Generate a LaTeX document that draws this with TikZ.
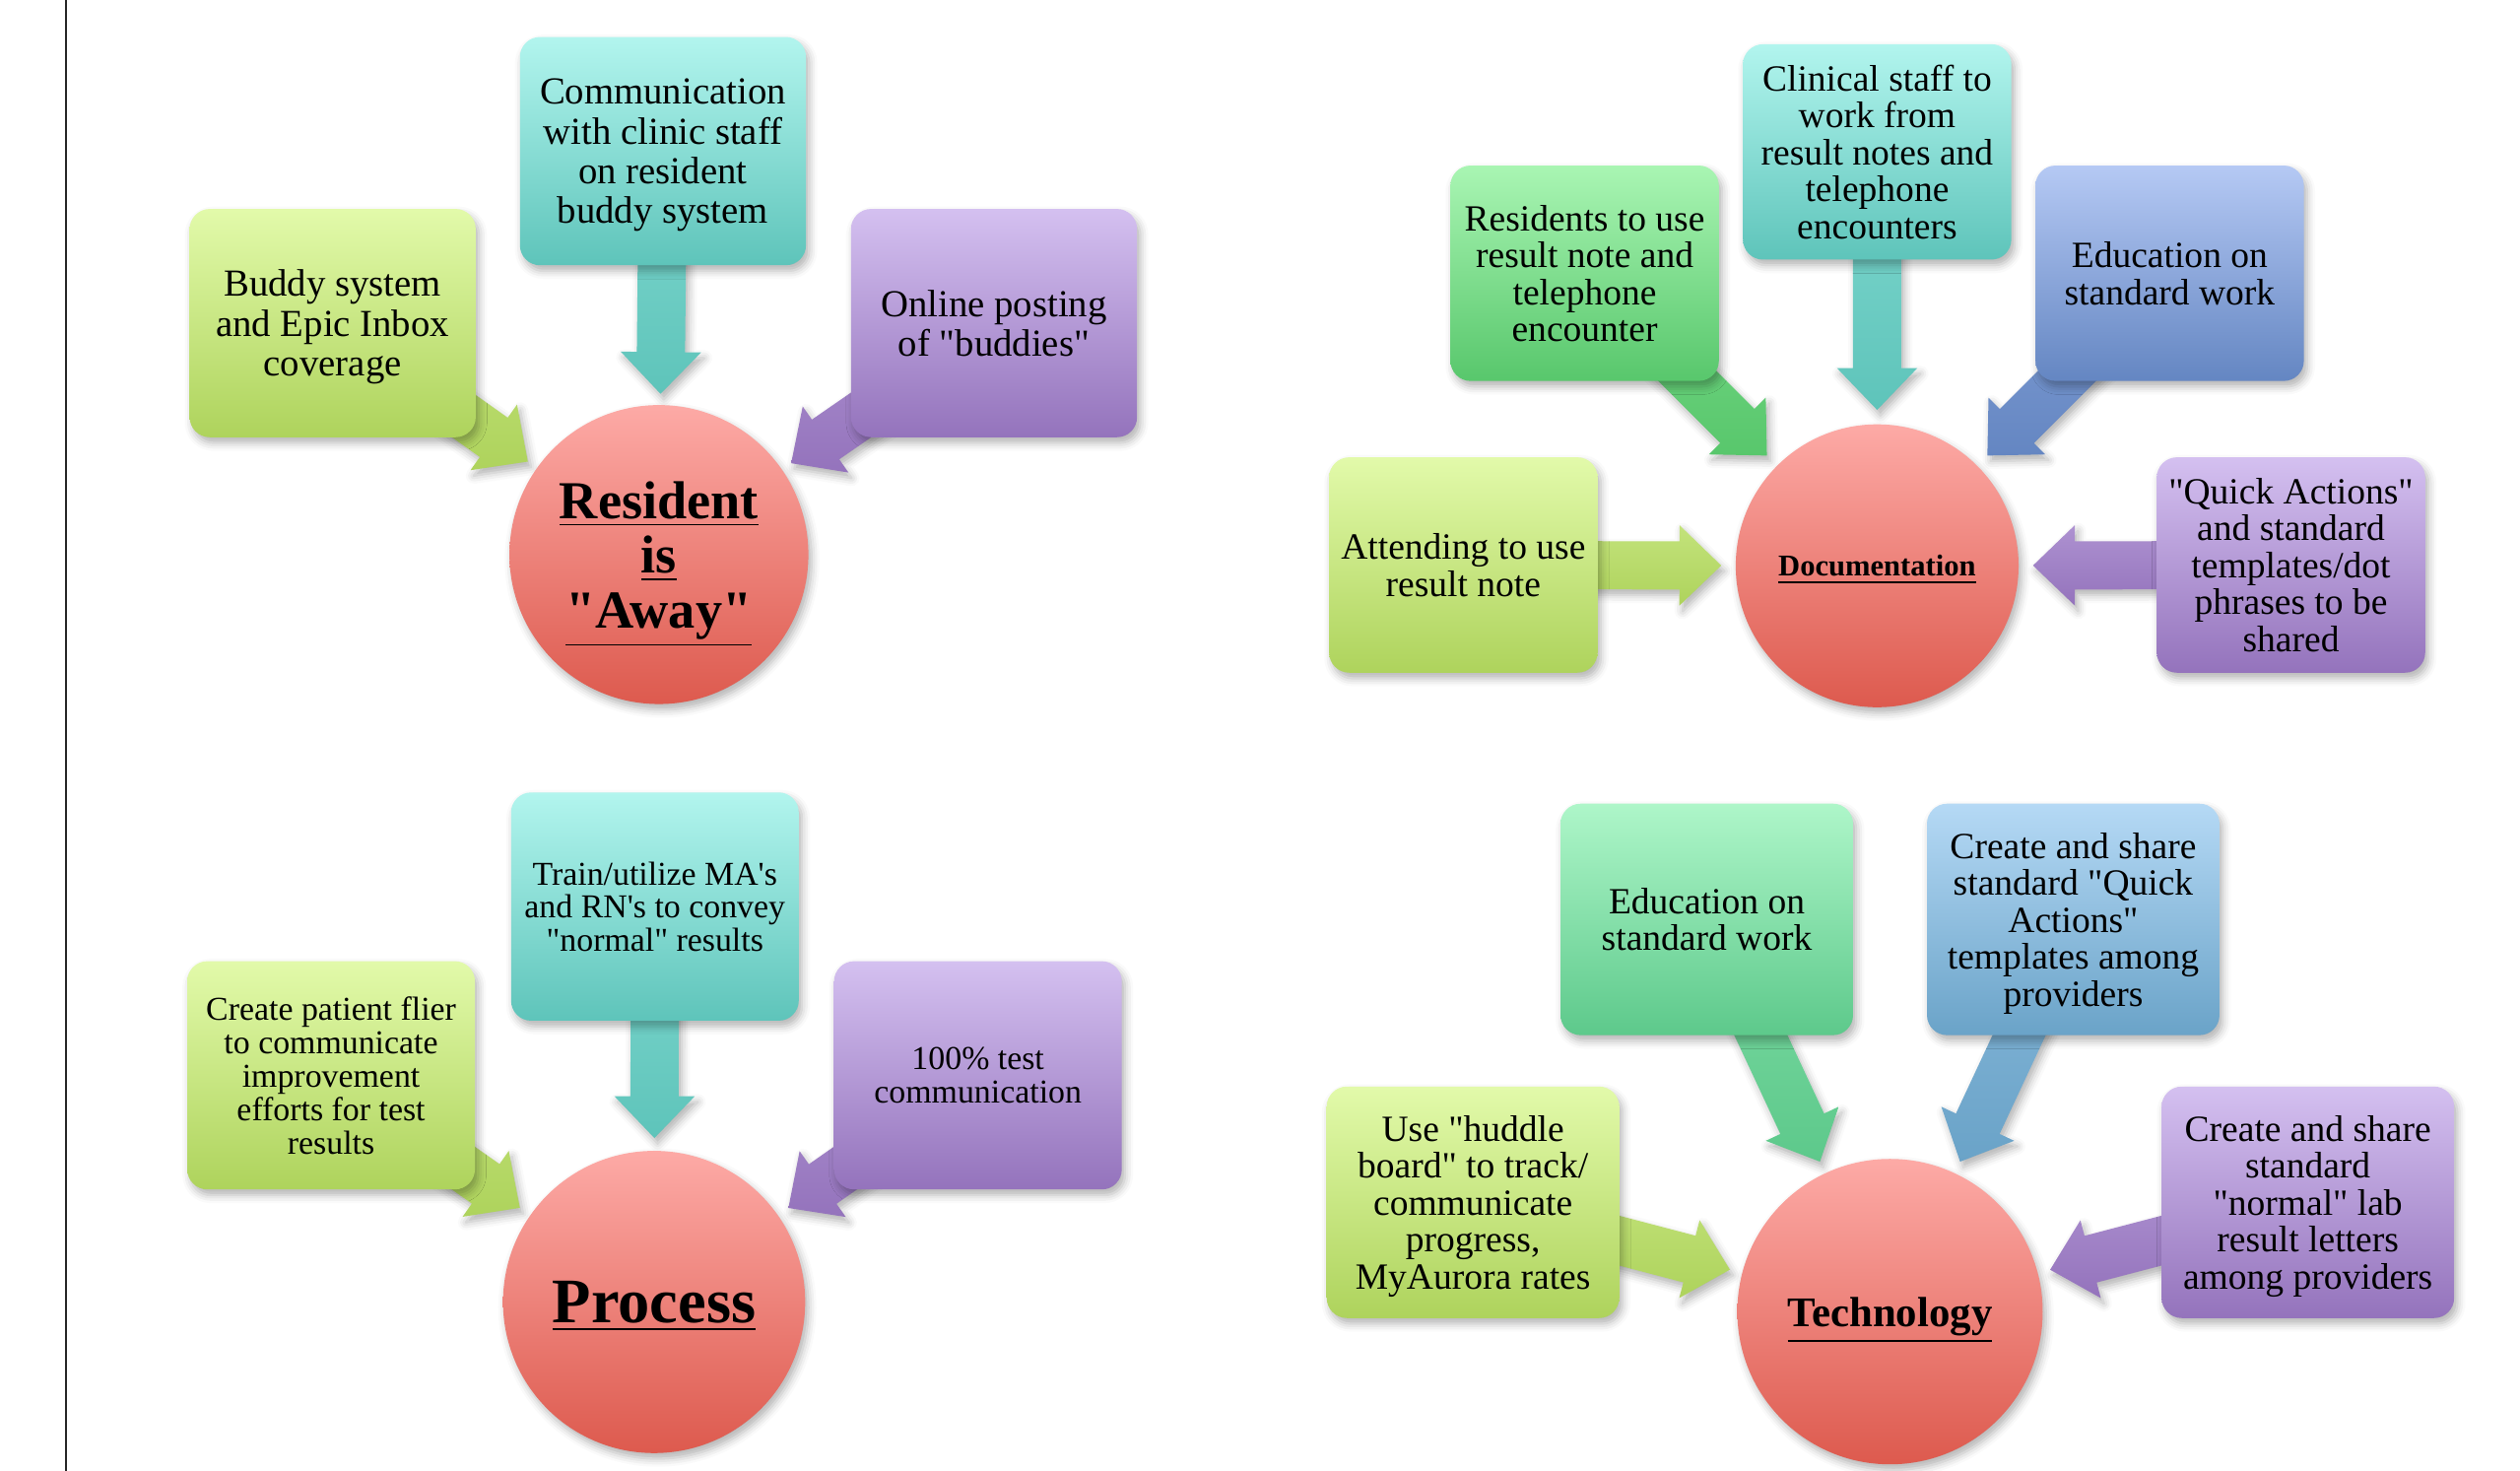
\documentclass[tikz,border=0pt]{standalone}
\usepackage{fontspec}
\setmainfont{Liberation Serif}[Ligatures=TeXOff]
\usetikzlibrary{calc,backgrounds,shadows.blur}

\definecolor{cyT}{HTML}{B2F5EE}\definecolor{cyB}{HTML}{5EC4BA}
\definecolor{ygT}{HTML}{E2FAAA}\definecolor{ygB}{HTML}{AED35C}
\definecolor{puT}{HTML}{D4C0F0}\definecolor{puB}{HTML}{9473BC}
\definecolor{grT}{HTML}{A9F5B3}\definecolor{grB}{HTML}{58C76C}
\definecolor{blT}{HTML}{B5C9F4}\definecolor{blB}{HTML}{6486C2}
\definecolor{mgT}{HTML}{AEF6C9}\definecolor{mgB}{HTML}{5DC98B}
\definecolor{skT}{HTML}{B5D9F5}\definecolor{skB}{HTML}{6AA3C8}
\definecolor{hubT}{HTML}{FDAAA6}\definecolor{hubB}{HTML}{DD5A4E}

% #1 style, #2 satellite, #3 hub, #4 distance of the tip from the hub
\newcommand\spoke[4]{\path[#1] let \p1=($(#2)-(#3)$), \n1={atan2(\y1,\x1)} in
  ($(#3)+(\n1:#4)$)
  -- ($(#3)+(\n1:#4)+(\n1:10.4pt)+(\n1+90:10pt)$)
  -- ($(#3)+(\n1:#4)+(\n1:10.4pt)+(\n1+90:6pt)$)
  -- ($(#2)+(\n1+90:6pt)$) -- ($(#2)+(\n1-90:6pt)$)
  -- ($(#3)+(\n1:#4)+(\n1:10.4pt)+(\n1-90:6pt)$)
  -- ($(#3)+(\n1:#4)+(\n1:10.4pt)+(\n1-90:10pt)$) -- cycle;}

\begin{document}
\begin{tikzpicture}[x=0.4pt,y=-0.4pt,
  soft/.style={blur shadow={shadow xshift=0.8pt, shadow yshift=-1.4pt, shadow blur radius=2pt, shadow opacity=30}},
  tone/.style={top color=#1T, bottom color=#1B},
  atone/.style={top color=#1T!40!#1B, bottom color=#1B, soft},
  box/.style={rounded corners=5pt, align=center, inner sep=1pt, text depth=0pt, soft},
  hub/.style={circle, inner sep=0pt, align=center, text depth=-1pt, top color=hubT, bottom color=hubB, soft},
  q1/.style={box, minimum width=71.2pt, minimum height=56.8pt, font=\fontsize{9.5}{9.9}\selectfont},
  q2/.style={box, minimum width=66.8pt, minimum height=53.6pt, font=\fontsize{9.2}{9.2}\selectfont},
  q3/.style={box, minimum width=71.6pt, minimum height=56.8pt, font=\fontsize{8.3}{8.3}\selectfont},
  q4/.style={box, minimum width=72.8pt, minimum height=57.6pt, font=\fontsize{9.2}{9.2}\selectfont}]
  \useasboundingbox (0,0) rectangle (1568,915);
  \draw[line width=0.6pt, black!85] (41,0) -- (41,915);

  \node[q1, tone=cy] (RA1) at (412.5,94) {Communication\\with clinic staff\\on resident\\buddy system};
  \node[q1, tone=yg] (RA2) at (207,201) {Buddy system\\and Epic Inbox\\coverage};
  \node[q1, tone=pu] (RA3) at (618.5,201) {Online posting\\of "buddies"};
  \node[hub, minimum size=74.4pt, font=\bfseries\fontsize{13.3}{13.6}\selectfont] (RA) at (410,345)
    {\underline{Resident}\\\underline{is}\\\underline{"Away"}};

  \node[q2, tone=cy] (D1) at (1168,94.5) {Clinical staff to\\work from\\result notes and\\telephone\\encounters};
  \node[q2, tone=gr] (D2) at (986,170) {Residents to use\\result note and\\telephone\\encounter};
  \node[q2, tone=bl] (D3) at (1350,170) {Education on\\standard work};
  \node[q2, tone=yg] (D4) at (910.5,351.5) {Attending to use\\result note};
  \node[q2, tone=pu] (D5) at (1425.5,351.5) {"Quick Actions"\\and standard\\templates/dot\\phrases to be\\shared};
  \node[hub, minimum size=70.4pt, font=\bfseries\fontsize{7.5}{9}\selectfont] (D) at (1168,352) {\underline{Documentation}};

  \node[q3, tone=cy] (P1) at (407.5,564) {Train/utilize MA's\\and RN's to convey\\"normal" results};
  \node[q3, tone=yg] (P2) at (206,669) {Create patient flier\\to communicate\\improvement\\efforts for test\\results};
  \node[q3, tone=pu] (P3) at (608.5,669) {100\% test\\communication};
  \node[hub, minimum size=75.2pt, text depth=-2pt, font=\bfseries\fontsize{15.8}{16}\selectfont] (P) at (407,810) {\underline{Process}};

  \node[q4, tone=mg] (T1) at (1062,572) {Education on\\standard work};
  \node[q4, tone=sk] (T2) at (1290,572) {Create and share\\standard "Quick\\Actions"\\templates among\\providers};
  \node[q4, tone=yg] (T3) at (916.5,748) {Use "huddle\\board" to track/\\communicate\\progress,\\MyAurora rates};
  \node[q4, tone=pu] (T4) at (1436,748) {Create and share\\standard\\"normal" lab\\result letters\\among providers};
  \node[hub, minimum size=76pt, font=\bfseries\fontsize{10.5}{12}\selectfont] (T) at (1176,816) {\underline{Technology}};

  \begin{scope}[on background layer]
    \spoke{atone=cy}{RA1}{RA}{40pt}
    \spoke{atone=yg}{RA2}{RA}{40pt}
    \spoke{atone=pu}{RA3}{RA}{40pt}
    \spoke{atone=cy}{D1}{D}{38.8pt}
    \spoke{atone=gr}{D2}{D}{38.8pt}
    \spoke{atone=bl}{D3}{D}{38.8pt}
    \spoke{atone=yg}{D4}{D}{38.8pt}
    \spoke{atone=pu}{D5}{D}{38.8pt}
    \spoke{atone=cy}{P1}{P}{40.8pt}
    \spoke{atone=yg}{P2}{P}{40.8pt}
    \spoke{atone=pu}{P3}{P}{40.8pt}
    \spoke{atone=mg}{T1}{T}{41.2pt}
    \spoke{atone=sk}{T2}{T}{41.2pt}
    \spoke{atone=yg}{T3}{T}{41.2pt}
    \spoke{atone=pu}{T4}{T}{41.2pt}
  \end{scope}
\end{tikzpicture}
\end{document}
